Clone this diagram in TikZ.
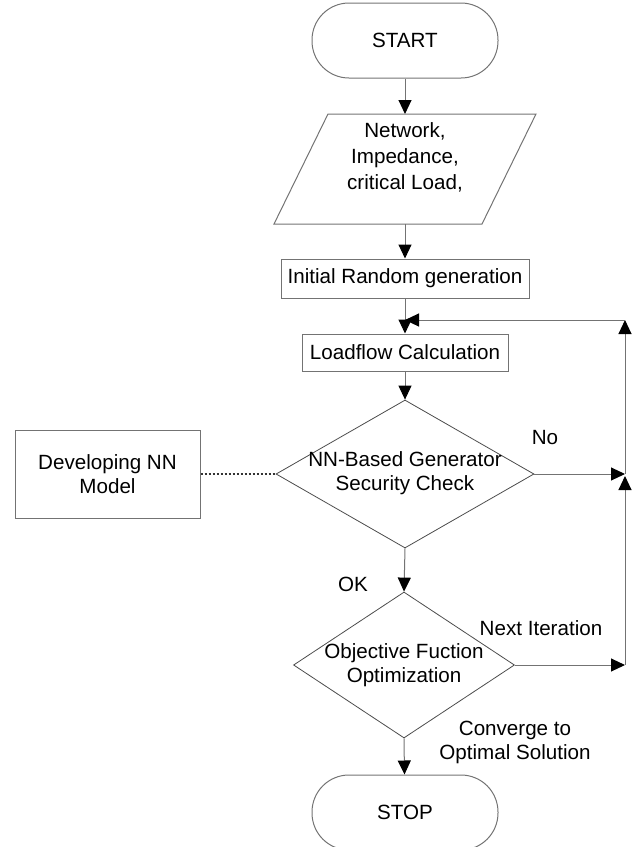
\documentclass[tikz,border=0pt]{standalone}
\usepackage{fontspec}
\setmainfont{Liberation Sans}
\usepackage{tikz}
\usetikzlibrary{shapes.geometric}
\usetikzlibrary{arrows.meta}
\definecolor{linegray}{gray}{0.45}

\begin{document}
\begin{tikzpicture}[x=0.5pt, y=-0.5pt,
    every node/.style={font=\fontsize{10.3}{12}\selectfont, text=black},
    term/.style={draw=linegray, line width=0.5pt, rectangle, rounded corners=18.5pt,
        minimum width=93pt, minimum height=37.5pt},
    proc/.style={draw=linegray, line width=0.5pt, rectangle, inner sep=0pt},
    decision/.style={draw=black!70, line width=0.4pt, diamond, inner sep=0pt},
    flow/.style={draw=linegray, line width=0.5pt,
        -{Triangle[length=7pt, width=6.5pt, color=black]}},
    lbl/.style={align=center, inner sep=0pt}]
    % page frame
    \useasboundingbox (0,0) rectangle (632,847);

    % main column
    \node[term] (start) at (405,40.5) {START};

    \draw[linegray, line width=0.5pt] (328,114) -- (536,114) -- (482,224) -- (274,224) -- cycle;
    \coordinate (in-top) at (405,114);
    \coordinate (in-bot) at (405,224);
    \node[lbl, font=\fontsize{10.3}{13}\selectfont] (input) at (405,157) {Network,\\Impedance,\\critical Load,};

    \node[proc, minimum width=124pt, minimum height=19.5pt] (init) at (405,278.5) {Initial Random generation};
    \node[proc, minimum width=103pt, minimum height=18.5pt] (load) at (405,352.5) {Loadflow Calculation};

    \node[decision, minimum width=129pt, minimum height=74pt] (check) at (405,474) {};
    \node[lbl] (check-txt) at (405,473.5) {NN-Based Generator\\Security Check};

    \node[decision, minimum width=110.5pt, minimum height=73pt] (optim) at (404,665) {};
    \node[lbl] (optim-txt) at (404,665) {Objective Fuction\\Optimization};

    \node[term] (stop) at (405,812.5) {STOP};

    % side box
    \node[proc, minimum width=92.5pt, minimum height=44pt, align=center] (nnmodel) at (107.5,474) {Developing NN\\Model};

    % loop back corners
    \coordinate (r2) at (625,665);
    \coordinate (r1) at (625,474);
    \coordinate (rt) at (625,320);
    \coordinate (join) at (405,320);

    % connectors
    \draw[flow] (start) -- (in-top);
    \draw[flow] (in-bot) -- (init);
    \draw[flow] (init) -- (load);
    \draw[flow] (load) -- (check.north);
    \draw[flow] (check.south) -- (optim.north);
    \draw[flow] (optim.south) -- (stop);
    \draw[black!80, line width=0.6pt, dash pattern=on 1.2pt off 0.8pt] (nnmodel.east) -- (check.west);

    \draw[flow] (check.east) -- (r1);
    \draw[flow] (optim.east) -- (r2);
    \draw[flow, shorten >=1pt] (r2) -- (r1);
    \draw[flow] (r1) -- (rt);
    \draw[flow] (rt) -- (join);

    % labels
    \node[lbl] (no) at (545,438) {No};
    \node[lbl] (ok) at (353,584) {OK};
    \node[lbl] (next) at (541,628) {Next Iteration};
    \node[lbl] (conv) at (515,742) {Converge to\\Optimal Solution};
\end{tikzpicture}
\end{document}
